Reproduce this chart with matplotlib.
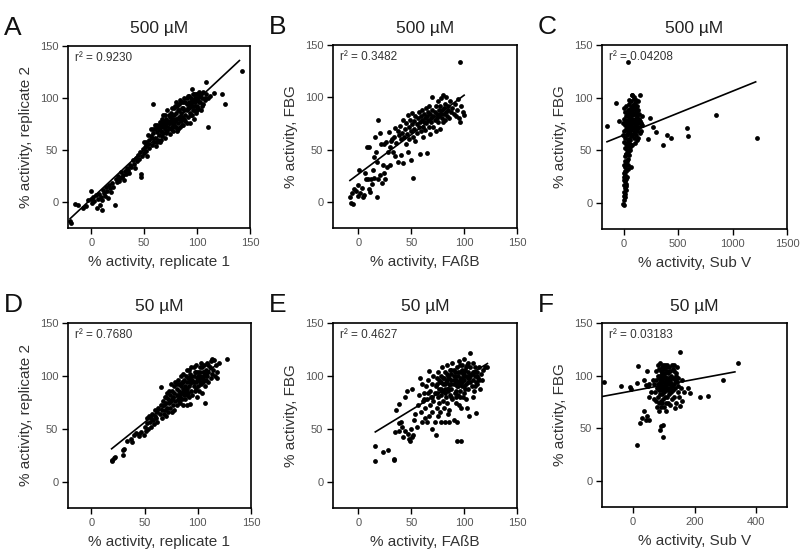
import numpy as np
import matplotlib
matplotlib.use('Agg')
import matplotlib.pyplot as plt

plt.rcParams['font.family'] = ['Liberation Sans', 'DejaVu Sans']

# A: 500 uM, replicate 1 vs replicate 2
rep_500 = [(-20,-18),(-19,-20),(-15,-2),(-13,-3),(-8,-6),(-5,-4),(-3,2),(0,11),(0,3),(1,-1),(2,5),(3,1),(4,7),(5,-6),
           (6,3),(7,8),(8,-3),(9,5),(10,2),(10,-8),(11,12),(12,9),(13,6),(14,14),(15,11),(16,4),(17,16),(18,13),(19,10),
           (20,18),(21,14),(22,-3),(23,22),(24,19),(25,25),(26,20),(27,23),(28,29),(29,24),(30,26),(31,21),(32,30),
           (33,27),(34,33),(35,31),(36,28),(37,36),(38,34),(39,40),(40,37),(41,33),(42,42),(43,39),(44,45),(45,41),
           (46,48),(47,27),(47,24),(48,44),(49,51),(50,47),(51,53),(52,49),(52,58),(53,44),(54,56),(55,60),(55,52),
           (56,63),(57,55),(58,94),(58,66),(59,58),(60,62),(60,70),(61,54),(62,67),(62,74),(63,60),(64,70),(64,64),
           (65,77),(65,58),(66,68),(66,72),(67,80),(67,63),(68,74),(68,66),(69,78),(70,70),(70,84),(70,62),(71,74),
           (71,80),(72,68),(72,88),(73,76),(73,71),(74,82),(74,65),(75,78),(75,86),(76,72),(76,90),(77,80),(77,68),
           (78,84),(78,75),(79,92),(79,78),(80,72),(80,86),(80,96),(81,80),(81,68),(82,88),(82,76),(83,94),(83,82),
           (84,72),(84,98),(85,86),(85,78),(86,90),(86,82),(87,96),(87,74),(88,88),(88,100),(89,84),(89,78),(90,94),
           (90,88),(91,102),(91,82),(92,90),(92,96),(93,86),(93,76),(94,100),(94,92),(95,109),(95,84),(96,96),(96,88),
           (97,104),(97,80),(98,92),(98,100),(99,86),(100,98),(100,104),(101,90),(102,96),(103,102),(104,88),(105,100),
           (106,94),(107,98),(108,115),(108,104),(110,72),(110,100),(112,102),(116,105),(124,104),(126,94),(142,126),
           (66,76),(69,72),(71,66),(73,84),(74,78),(76,84),(77,74),(78,90),(79,72),(81,92),(82,70),(83,88),(84,80),
           (85,96),(86,74),(87,90),(88,80),(89,96),(90,76),(91,90),(92,102),(93,94),(94,84),(95,98),(96,104),(97,88),
           (98,96),(99,104),(100,92),(101,100),(102,106),(103,96),(104,104),(105,92),(106,106),(107,100),(60,74),
           (58,70),(57,62),(63,72),(65,74),(68,84),(72,78),(75,70),(80,80),(85,82),(90,100),(95,92),(100,88),(70,76),
           (62,58),(66,60),(56,70),(54,64),(50,58),(52,55)]

# B: 500 uM, FAbB vs FBG
fab_500 = [(-8,5),(-7,-1),(-5,-2),(-6,8),(-4,12),(-2,10),(0,16),(0,6),(1,30),(2,8),(3,13),(4,5),(5,7),(6,28),(7,22),
           (8,52),(9,22),(10,52),(10,12),(11,9),(12,22),(13,17),(14,30),(15,23),(15,43),(16,62),(17,48),(18,5),(18,38),
           (19,78),(19,22),(20,26),(20,66),(21,55),(22,18),(23,35),(24,28),(24,55),(25,22),(26,57),(27,33),(28,48),
           (29,67),(30,35),(30,52),(31,58),(32,60),(33,48),(34,62),(35,71),(35,44),(36,56),(37,68),(37,38),(38,64),
           (39,73),(40,60),(40,45),(41,66),(42,78),(42,37),(43,62),(44,70),(45,75),(45,55),(46,65),(47,83),(47,48),
           (48,72),(48,60),(49,78),(50,68),(50,40),(51,74),(51,85),(52,23),(52,62),(53,77),(53,70),(54,82),(54,58),
           (55,74),(55,66),(56,80),(57,72),(57,86),(58,76),(58,46),(59,68),(59,82),(60,78),(60,88),(61,72),(61,62),
           (62,84),(62,76),(63,80),(63,69),(64,90),(64,75),(65,82),(65,47),(66,78),(66,86),(67,72),(67,92),(68,84),
           (68,65),(69,80),(69,76),(70,88),(70,100),(71,82),(71,72),(72,86),(72,78),(73,92),(73,68),(74,84),(74,80),
           (75,96),(75,76),(76,88),(76,82),(77,92),(77,70),(78,84),(78,99),(79,80),(79,88),(80,102),(80,76),(81,90),
           (81,84),(82,94),(82,78),(83,86),(83,100),(84,82),(85,92),(85,88),(86,80),(87,96),(88,86),(89,90),(90,84),
           (91,94),(92,82),(93,88),(94,98),(95,80),(96,134),(96,76),(97,92),(99,86),(100,83)]

# C: 500 uM, Sub V vs FBG
subv_500 = [(-154,73),(-71,95),(-40,78),(37,134),(237,81),(268,72),(298,67),(222,61),(360,55),(397,64),(431,62),
            (585,71),(591,63),(846,83),(1222,62),(145,102),(92,101),(74,102),(62,34),
            (-9,-1),(0,-2),(5,3),(10,5),(0,6),(15,8),(5,10),(20,12),(10,14),(0,17),(25,18),(15,21),(5,22),(20,23),
            (30,24),(10,26),(0,28),(25,30),(35,32),(15,34),(5,36),(20,38),(30,40),(40,42),(10,44),(25,46),(35,48),
            (45,50),(15,52),(55,53),(30,54),(50,45),(60,50),(40,36),(8,40),(18,46),(28,50),(22,16),(12,30),(2,24),
            (0,58),(20,56),(40,58),(60,56),(80,55),(100,57),(120,60),(10,62),(30,64),(50,61),(70,63),(90,62),(110,64),
            (130,62),(150,66),(0,68),(20,70),(40,67),(60,69),(80,71),(100,68),(120,70),(140,72),(160,68),(10,74),
            (30,76),(50,73),(70,75),(90,77),(110,74),(130,76),(150,78),(170,74),(0,80),(20,82),(40,79),(60,81),
            (80,83),(100,80),(120,82),(140,84),(15,86),(35,88),(55,85),(75,87),(95,89),(115,86),(135,88),(25,92),
            (45,94),(65,91),(85,93),(105,95),(125,92),(50,98),(70,97),(90,99),(110,98),(80,102),(130,97),(60,88),
            (100,92),(40,84),(120,78),(70,70),(90,66),(50,78),(30,72),(110,84),(85,76),(65,80),(45,70),(95,84),
            (75,64),(55,66),(105,72),(125,68),(35,60),(115,90),(25,78),(140,80),(160,76),(170,82),(-5,64),(-5,76),
            (5,90),(60,60),(80,90),(100,76),(55,76),(75,80),(95,72),(115,80),(45,88),(85,84),(65,72),(35,82)]

# D: 50 uM, replicate 1 vs replicate 2
rep_50 = [(19,19),(19,20),(21,22),(22,23),(30,25),(30,30),(31,31),(33,38),(37,40),(38,37),(40,44),(42,46),(45,43),
          (45,45),(47,47),(49,44),(50,52),(51,48),(52,55),(52,60),(53,50),(54,62),(55,56),(56,52),(56,60),(57,64),
          (58,58),(59,54),(60,62),(60,68),(61,60),(62,66),(62,56),(63,70),(64,64),(65,89),(65,72),(66,60),(66,68),
          (67,76),(68,64),(68,72),(69,80),(69,68),(70,74),(70,62),(71,84),(71,70),(72,78),(72,66),(73,86),(73,74),
          (74,70),(74,82),(75,92),(75,76),(76,66),(76,86),(77,80),(77,72),(78,90),(78,84),(78,68),(79,76),(79,94),
          (80,82),(80,88),(80,72),(81,96),(81,78),(82,86),(82,92),(83,80),(83,74),(84,100),(84,90),(84,84),(85,78),
          (85,94),(86,88),(86,102),(86,72),(87,82),(87,96),(88,90),(88,78),(89,100),(89,86),(90,94),(90,72),(90,106),
          (91,84),(91,98),(92,90),(92,80),(93,102),(93,73),(93,94),(94,86),(94,108),(95,96),(95,82),(96,100),(96,90),
          (97,104),(97,86),(98,94),(98,110),(99,80),(99,98),(100,90),(100,104),(101,96),(101,86),(102,108),(102,100),
          (103,92),(103,112),(104,84),(104,98),(105,104),(105,94),(106,100),(106,110),(107,74),(107,90),(108,106),
          (108,96),(109,112),(109,100),(110,94),(110,104),(111,108),(112,98),(112,114),(113,116),(113,102),(114,106),
          (115,115),(116,100),(117,110),(118,104),(118,98),(120,112),(127,116),(88,84),(76,78),(82,76),(96,94),
          (100,100),(92,98),(86,94),(80,92),(104,108),(108,102),(90,88),(84,92),(74,76),(70,80),(94,100),(98,104),
          (102,94),(106,96),(82,82),(86,84),(90,82),(94,96),(98,88),(102,104),(106,104),(110,110),(96,108),(92,106)]

# E: 50 uM, FAbB vs FBG
fab_50 = [(16,19),(16,34),(23,28),(28,30),(34,20),(34,21),(35,47),(36,68),(38,55),(38,48),(38,73),(40,56),(41,52),
          (42,42),(44,48),(44,80),(46,86),(47,45),(48,40),(49,38),(50,50),(51,42),(51,88),(52,44),(53,58),(54,64),
          (55,52),(56,72),(57,82),(58,98),(59,66),(60,56),(60,92),(61,76),(62,84),(63,70),(63,60),(64,90),(65,78),
          (66,96),(67,105),(67,62),(68,72),(68,86),(69,80),(70,92),(70,66),(71,100),(71,76),(72,56),(72,84),(73,44),
          (73,90),(74,70),(74,98),(75,80),(75,104),(76,88),(76,74),(77,94),(77,66),(78,56),(78,100),(78,82),(79,86),
          (79,108),(80,92),(80,76),(81,98),(81,70),(82,56),(82,88),(82,104),(83,80),(83,94),(84,110),(84,74),
          (85,100),(85,86),(86,56),(86,92),(86,68),(87,106),(87,82),(88,96),(88,88),(89,112),(89,78),(90,58),
          (90,100),(90,92),(91,84),(91,104),(92,96),(92,74),(93,56),(93,108),(93,38),(93,90),(94,100),(94,82),
          (95,114),(95,94),(96,86),(96,104),(97,38),(97,98),(97,70),(98,110),(98,90),(99,80),(99,102),(100,96),
          (100,116),(101,88),(101,106),(102,100),(102,78),(103,110),(103,70),(104,94),(104,104),(105,62),(105,98),
          (106,122),(106,108),(107,90),(107,102),(108,112),(108,96),(109,86),(109,104),(110,100),(110,108),(111,65),
          (111,94),(112,104),(113,98),(114,108),(115,88),(116,102),(117,96),(118,106),(120,108),(122,108),(84,96),
          (88,102),(92,92),(96,96),(100,104),(104,88),(80,86),(76,96),(86,98),(90,106),(94,90),(98,106),(102,92),
          (106,100),(82,92),(78,88),(74,84),(70,80),(66,84),(62,78),(100,84),(96,80),(92,86),(88,80),(104,112),
          (112,92),(108,80),(95,72),(85,64),(75,62),(65,56),(70,50),(80,98),(84,102),(88,92),(92,100),(96,92),
          (100,100),(104,98),(108,104),(112,100),(86,88),(90,96),(94,104),(98,94),(102,108),(106,94),(82,84),
          (78,94),(74,92),(96,110),(100,90),(92,80),(88,106),(114,96),(110,90)]

# F: 50 uM, Sub V vs FBG
subv_50 = [(-92,94),(-40,90),(-8,89),(-5,87),(14,93),(18,109),(36,96),(47,104),(43,91),(49,90),(54,92),(52,80),
           (35,66),(30,60),(47,62),(43,58),(54,58),(24,55),(98,53),(92,52),(87,48),(97,42),(13,34),(152,122),
           (340,112),(293,96),(179,88),(187,83),(218,80),(245,81),(152,71),(136,69),
           (72,84),(74,96),(75,76),(76,104),(78,88),(78,70),(80,100),(80,80),(82,92),(82,110),(84,74),(84,86),
           (85,98),(86,66),(86,106),(88,82),(88,94),(89,112),(90,76),(90,100),(91,88),(92,70),(92,104),(93,94),
           (94,82),(94,108),(95,98),(96,74),(96,90),(97,110),(98,86),(98,102),(99,78),(100,94),(100,106),(101,84),
           (102,98),(102,70),(103,110),(104,90),(104,80),(105,102),(106,94),(106,74),(107,108),(108,86),(108,98),
           (109,66),(110,104),(110,92),(111,80),(112,110),(112,96),(113,86),(114,102),(115,74),(116,92),(116,108),
           (118,98),(118,82),(120,104),(120,88),(122,94),(122,72),(124,100),(125,84),(126,110),(127,90),(128,78),
           (130,98),(130,86),(132,104),(133,92),(134,80),(135,110),(136,96),(138,88),(139,102),(140,74),(142,94),
           (144,108),(145,84),(146,98),(148,90),(150,80),(85,90),(95,86),(105,88),(115,96),(125,92),(90,96),
           (100,100),(110,98),(120,96),(100,88),(92,90),(108,92),(96,102),(112,88),(88,100),(130,106),(140,100),
           (60,84),(65,96),(68,78),(70,92),(155,88),(160,96),(165,84),(158,76)]

# regression lines: (slope, intercept, x start, x end)
fits = [(0.95, 3.0, -20, 140), (0.755, 26.5, -8, 100), (0.0417, 64.4, -154, 1212),
        (0.806, 15.7, 19, 117), (0.61, 37.2, 16, 122), (0.0544, 85.5, -101, 331)]
r2 = ['0.9230', '0.3482', '0.04208', '0.7680', '0.4627', '0.03183']
letters = ['A', 'B', 'C', 'D', 'E', 'F']
titles = ['500 µM'] * 3 + ['50 µM'] * 3
xlabels = ['% activity, replicate 1', '% activity, FAßB', '% activity, Sub V'] * 2
ylabels = ['% activity, replicate 2', '% activity, FBG', '% activity, FBG'] * 2
xlims = [(-22, 150), (-24, 150), (-200, 1500), (-22, 150), (-24, 150), (-100, 500)]
xticks = [[0, 50, 100, 150], [0, 50, 100, 150], [0, 500, 1000, 1500],
          [0, 50, 100, 150], [0, 50, 100, 150], [0, 200, 400]]
panels = [rep_500, fab_500, subv_500, rep_50, fab_50, subv_50]

# axes boxes in pixels: left, right, top, bottom
boxes = [(68, 250, 46, 228), (333, 517, 45, 228), (602, 787, 45, 229),
         (68, 251, 323, 508), (333, 517, 323, 508), (602, 787, 323, 507)]

W, H = 800, 550
fig = plt.figure(figsize=(8, 5.5), dpi=100)

for i in range(6):
    l, r, t, b = boxes[i]
    ax = fig.add_axes([l / W, 1 - b / H, (r - l) / W, (b - t) / H])
    pts = np.array(panels[i])
    ax.scatter(pts[:, 0], pts[:, 1], s=12, c='black', linewidths=0, zorder=3)
    m, c, x0, x1 = fits[i]
    xs = np.array([x0, x1])
    ax.plot(xs, m * xs + c, color='black', lw=1.2, zorder=4)

    ax.set_xlim(*xlims[i])
    ax.set_ylim(-25, 150)
    ax.set_xticks(xticks[i])
    ax.set_yticks([0, 50, 100, 150])
    ax.tick_params(direction='out', length=4, width=1, labelsize=8, labelcolor='#555555',
                   top=False, right=False, pad=3)
    for sp in ax.spines.values():
        sp.set_linewidth(1.2)
    ax.set_xlabel(xlabels[i], fontsize=11, color='#333333', labelpad=5)
    ax.set_ylabel(ylabels[i], fontsize=11, color='#333333', labelpad=5)
    ax.set_title(titles[i], fontsize=12.5, color='#222222', pad=9)
    ax.text(0.04, 0.965, 'r² = ' + r2[i], transform=ax.transAxes, fontsize=8.5,
            color='#333333', va='top', ha='left')

    fig.text((l - 64) / W, 1 - (t - 30) / H, letters[i], fontsize=19, color='#111111',
             va='top', ha='left')

fig.savefig('out.png', dpi=100)
